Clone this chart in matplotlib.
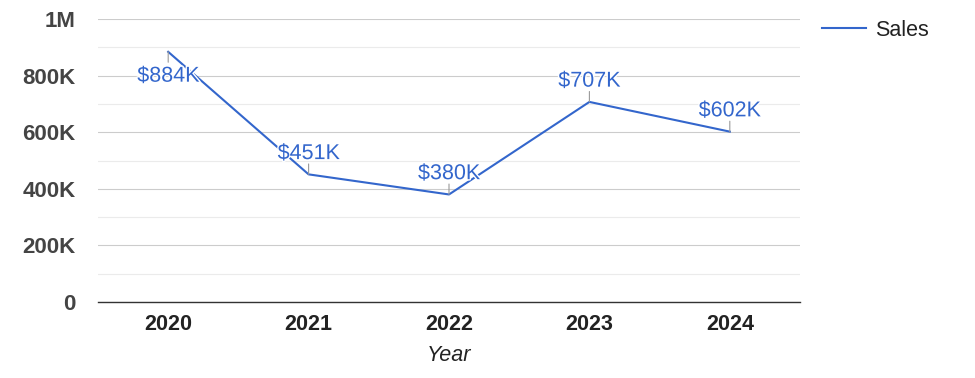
import matplotlib.pyplot as plt
import matplotlib.patheffects as pe
from matplotlib.ticker import FixedLocator, FuncFormatter

# --- Data ---
years = ["2020", "2021", "2022", "2023", "2024"]
sales = [884000, 451000, 380000, 707000, 602000]
labels = ["$884K", "$451K", "$380K", "$707K", "$602K"]
label_below = [True, False, False, False, False]

BLUE = "#3366cc"
FS = 15.5
plt.rcParams["font.family"] = ["Liberation Sans", "DejaVu Sans"]

fig = plt.figure(figsize=(9.75, 3.78), dpi=100)
ax = fig.add_axes([98 / 975, 1 - 302 / 378, 702 / 975, 283 / 378])

x = list(range(len(years)))
ax.plot(x, sales, color=BLUE, linewidth=1.5, label="Sales", zorder=3)

# data labels with small leader ticks
for xi, v, txt, below in zip(x, sales, labels, label_below):
    sign = -1 if below else 1
    ax.annotate("", xy=(xi, v), xytext=(0, sign * 7.5), textcoords="offset points",
                arrowprops=dict(arrowstyle="-", color="#999999", lw=0.8,
                                shrinkA=0, shrinkB=0), zorder=4)
    off = -21.5 if below else 11
    ax.annotate(txt, xy=(xi, v), xytext=(0, off), textcoords="offset points",
                ha="center", va="baseline", fontsize=FS, color=BLUE, zorder=5,
                path_effects=[pe.withStroke(linewidth=2, foreground="white")])

ax.set_xlim(-0.5, len(years) - 0.5)
ax.set_ylim(0, 1000000)
ax.set_xticks(x)
ax.set_xticklabels(years, fontsize=FS, fontweight="bold", color="#222222")
ax.yaxis.set_major_locator(FixedLocator([0, 200000, 400000, 600000, 800000, 1000000]))
ax.yaxis.set_minor_locator(FixedLocator([100000, 300000, 500000, 700000, 900000]))


def fmt(v, pos):
    if v == 0:
        return "0"
    if v >= 1000000:
        return f"{v / 1000000:.0f}M"
    return f"{v / 1000:.0f}K"


ax.yaxis.set_major_formatter(FuncFormatter(fmt))
for t in ax.get_yticklabels():
    t.set_fontsize(16)
    t.set_fontweight("bold")
    t.set_color("#444444")

ax.tick_params(axis="y", which="both", length=0, pad=16)
ax.tick_params(axis="x", length=0, pad=9)
ax.grid(axis="y", which="major", color="#cccccc", linewidth=0.8)
ax.grid(axis="y", which="minor", color="#ebebeb", linewidth=0.8)
ax.set_axisbelow(True)
for s in ["top", "right", "left"]:
    ax.spines[s].set_visible(False)
ax.spines["bottom"].set_color("#333333")
ax.spines["bottom"].set_linewidth(1)
ax.spines["bottom"].set_zorder(2)

ax.set_xlabel("Year", fontsize=FS, fontstyle="italic", color="#222222", labelpad=7)

ax.legend(loc="center left", bbox_to_anchor=(822 / 975, 1 - 30 / 378),
          bbox_transform=fig.transFigure, frameon=False, fontsize=FS,
          handlelength=2.05, handletextpad=0.4, borderpad=0, borderaxespad=0,
          labelcolor="#222222")

fig.savefig("out.png", dpi=100)
